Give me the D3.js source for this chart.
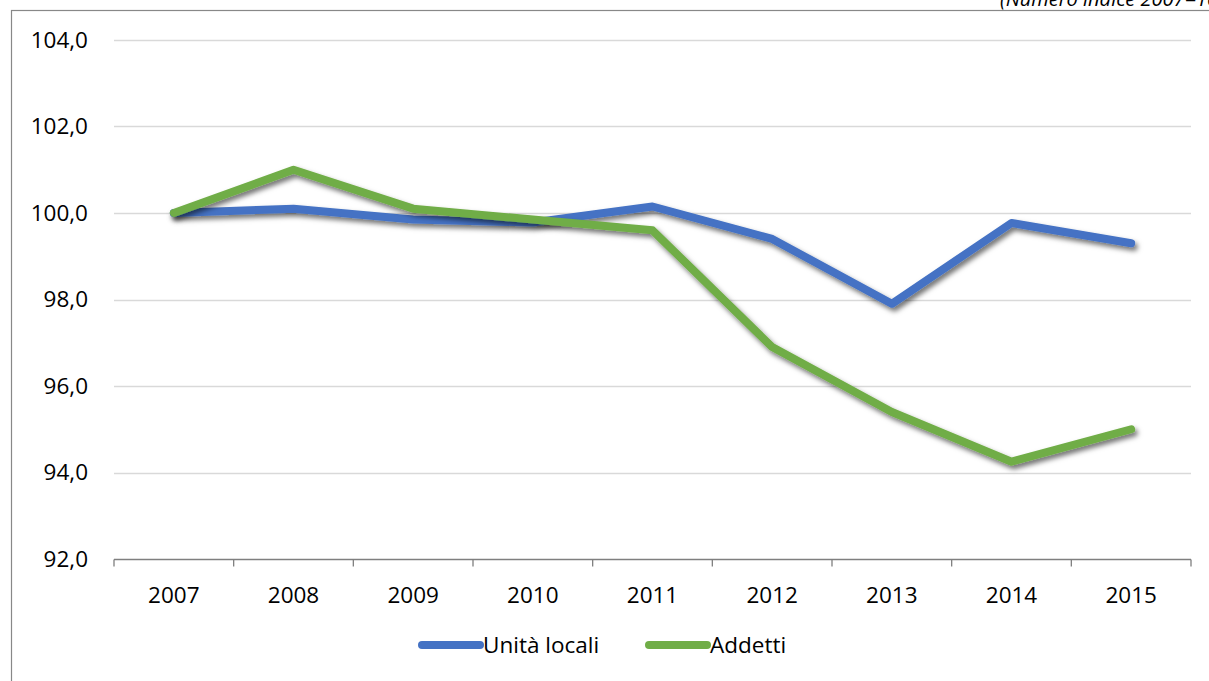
<!DOCTYPE html>
<html>
<head>
<meta charset="utf-8">
<script src="https://cdn.jsdelivr.net/npm/d3@7"></script>
<style>
  body { margin: 0; background: #fff; }
  svg { font-family: "Open Sans", "Noto Sans", sans-serif; }
</style>
</head>
<body>
<div id="chart"></div>
<script>
// dati
var anni = ["2007", "2008", "2009", "2010", "2011", "2012", "2013", "2014", "2015"];
var unitaLocali = [100.0, 100.1, 99.85, 99.78, 100.15, 99.4, 97.9, 99.77, 99.3];
var addetti = [100.0, 101.0, 100.1, 99.85, 99.6, 96.9, 95.4, 94.25, 95.0];
var yTicks = [92, 94, 96, 98, 100, 102, 104];

var serie = [
  {nome: "Unità locali", valori: unitaLocali, colore: "#4472C4"},
  {nome: "Addetti", valori: addetti, colore: "#70AD47"}
];

const W = 1209, H = 681;
const margin = {top: 40, right: 18, bottom: 122, left: 114};
const fs = 22.5;

const svg = d3.select("#chart").append("svg")
  .attr("width", W).attr("height", H);

// ombra delle linee
const defs = svg.append("defs");
defs.append("filter").attr("id", "ombra")
  .attr("x", "-10%").attr("y", "-10%").attr("width", "120%").attr("height", "130%")
  .append("feDropShadow")
  .attr("dx", 2.5).attr("dy", 3.5).attr("stdDeviation", 2.8)
  .attr("flood-color", "#000").attr("flood-opacity", 0.55);

// cornice
svg.append("rect")
  .attr("x", 11.5).attr("y", 10.5)
  .attr("width", W + 20).attr("height", H + 20)
  .attr("fill", "none").attr("stroke", "#888").attr("stroke-width", 1.2);

svg.append("text")
  .attr("x", 1000).attr("y", 6)
  .attr("font-style", "italic").attr("font-size", 20).attr("fill", "#000")
  .text("(Numero indice 2007=100)");

const x = d3.scaleBand()
  .domain(anni)
  .range([margin.left, W - margin.right]);

const y = d3.scaleLinear()
  .domain([92, 104])
  .range([H - margin.bottom, margin.top]);

// griglia
svg.append("g")
  .selectAll("line")
  .data(yTicks.slice(1))
  .join("line")
  .attr("x1", margin.left).attr("x2", W - margin.right)
  .attr("y1", d => Math.round(y(d)) + 0.5).attr("y2", d => Math.round(y(d)) + 0.5)
  .attr("stroke", "#d9d9d9").attr("stroke-width", 1.3);

// etichette asse y
svg.append("g")
  .selectAll("text")
  .data(yTicks)
  .join("text")
  .attr("x", 88)
  .attr("y", d => y(d))
  .attr("dy", "0.35em")
  .attr("text-anchor", "end")
  .attr("font-size", fs)
  .attr("fill", "#000")
  .text(d => d.toFixed(1).replace(".", ","));

// asse x
const xAxis = svg.append("g")
  .attr("transform", `translate(0,${Math.round(y(92)) + 0.5})`);
xAxis.append("line")
  .attr("x1", margin.left).attr("x2", W - margin.right)
  .attr("stroke", "#7f7f7f").attr("stroke-width", 1.3);
xAxis.selectAll("line.tick")
  .data(anni.concat(["fine"]))
  .join("line")
  .attr("class", "tick")
  .attr("x1", (d, i) => i < anni.length ? x(d) : x(anni[anni.length - 1]) + x.bandwidth())
  .attr("x2", (d, i) => i < anni.length ? x(d) : x(anni[anni.length - 1]) + x.bandwidth())
  .attr("y1", 0).attr("y2", 7)
  .attr("stroke", "#7f7f7f").attr("stroke-width", 1.3);
xAxis.selectAll("text")
  .data(anni)
  .join("text")
  .attr("x", d => x(d) + x.bandwidth() / 2)
  .attr("y", 43)
  .attr("text-anchor", "middle")
  .attr("font-size", fs)
  .attr("fill", "#000")
  .text(d => d);

// linee
const linea = d3.line()
  .x((d, i) => x(anni[i]) + x.bandwidth() / 2)
  .y(d => y(d));

svg.append("g")
  .selectAll("path")
  .data(serie)
  .join("path")
  .attr("d", d => linea(d.valori))
  .attr("fill", "none")
  .attr("stroke", d => d.colore)
  .attr("stroke-width", 8)
  .attr("stroke-linecap", "round")
  .attr("stroke-linejoin", "round")
  .attr("filter", "url(#ombra)");

// legenda
const legPos = [422, 649];
const leg = svg.append("g").selectAll("g")
  .data(serie)
  .join("g")
  .attr("transform", (d, i) => `translate(${legPos[i]},645)`);
leg.append("line")
  .attr("x1", 0).attr("x2", 58)
  .attr("stroke", d => d.colore)
  .attr("stroke-width", 8)
  .attr("stroke-linecap", "round");
leg.append("text")
  .attr("x", 61).attr("dy", "0.35em")
  .attr("font-size", fs).attr("fill", "#000")
  .text(d => d.nome);
</script>
</body>
</html>
